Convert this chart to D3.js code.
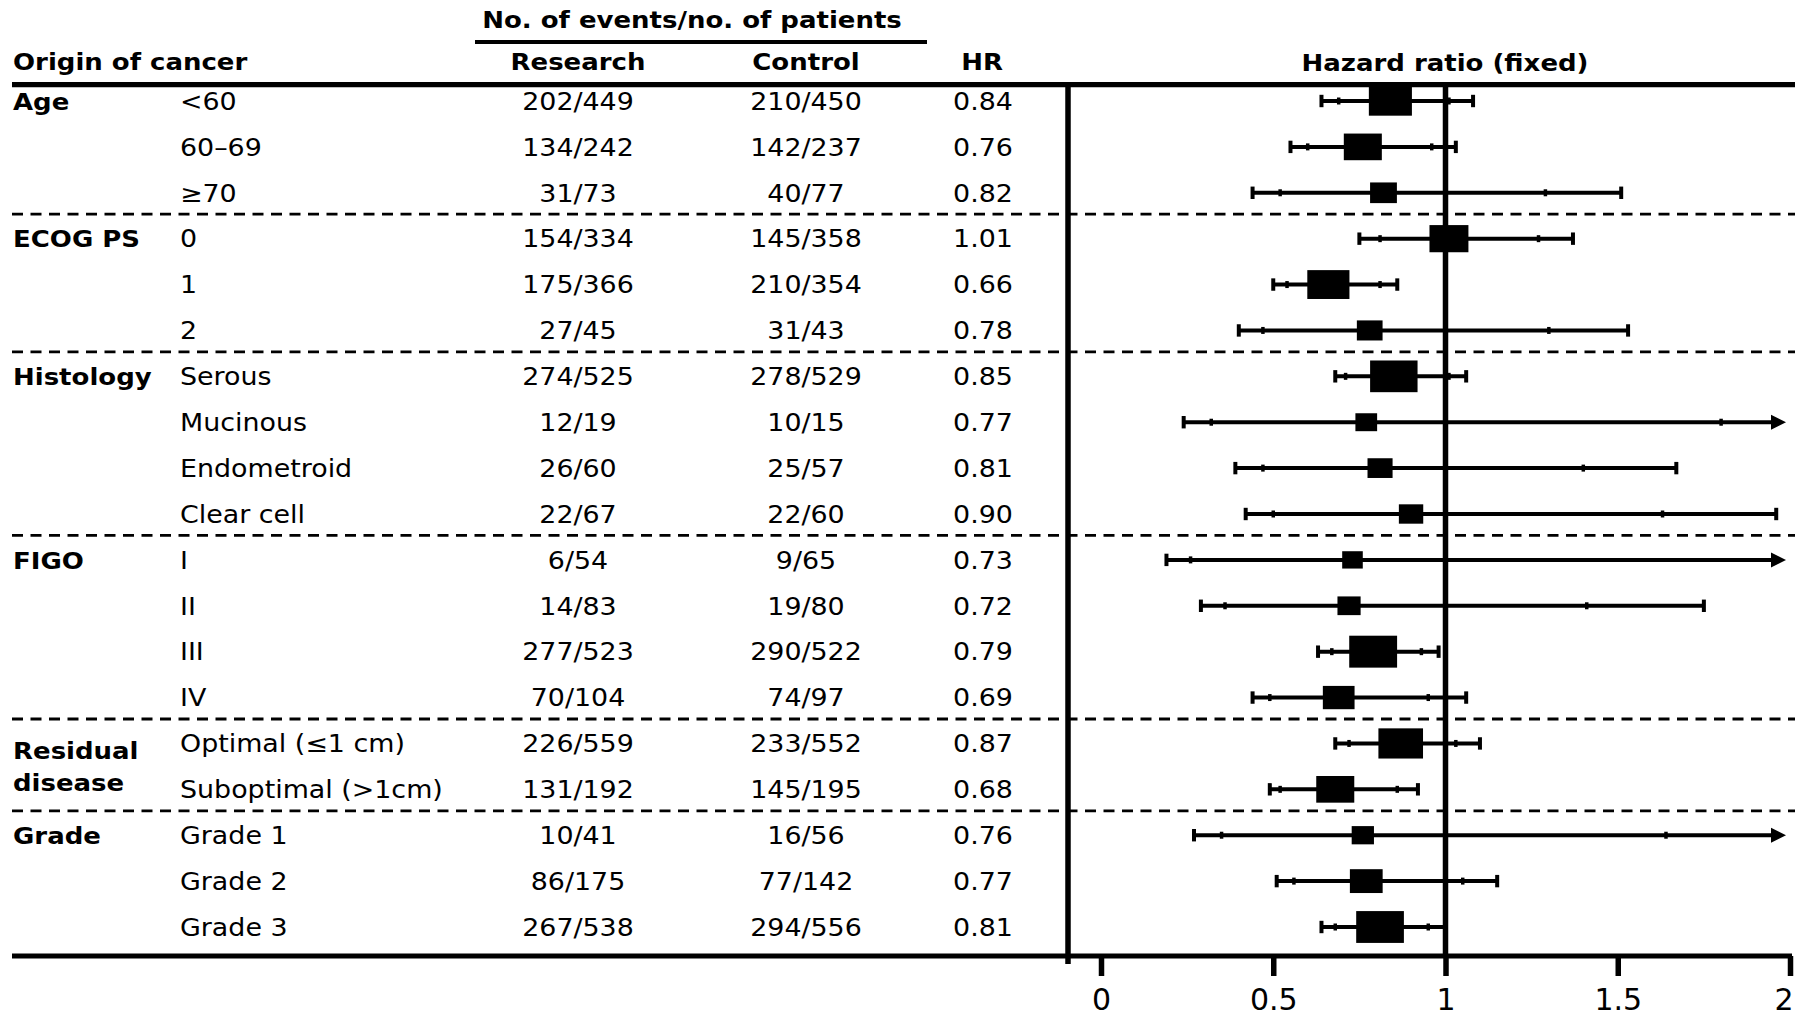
<!DOCTYPE html>
<html lang="en">
<head>
<meta charset="UTF-8">
<title>Hazard ratio by subgroup</title>
<script src="https://d3js.org/d3.v7.min.js"></script>
<style>
  body { margin: 0; background: #fff; }
  svg { display: block; font-family: "DejaVu Sans", Verdana, sans-serif; }
</style>
</head>
<body>
<svg id="chart" width="1795" height="1017"></svg>
<script>
// subgroup table
const groupLabels = ["Age", "ECOG PS", "Histology", "FIGO", "Residual disease", "Grade"];
const groupOf = [0, 0, 0, 1, 1, 1, 2, 2, 2, 2, 3, 3, 3, 3, 4, 4, 5, 5, 5];
const subgroups = ["<60", "60–69", "≥70", "0", "1", "2", "Serous", "Mucinous", "Endometroid", "Clear cell",
  "I", "II", "III", "IV", "Optimal (≤1 cm)", "Suboptimal (>1cm)", "Grade 1", "Grade 2", "Grade 3"];
const researchEvents = [202, 134, 31, 154, 175, 27, 274, 12, 26, 22, 6, 14, 277, 70, 226, 131, 10, 86, 267];
const researchTotal  = [449, 242, 73, 334, 366, 45, 525, 19, 60, 67, 54, 83, 523, 104, 559, 192, 41, 175, 538];
const controlEvents  = [210, 142, 40, 145, 210, 31, 278, 10, 25, 22, 9, 19, 290, 74, 233, 145, 16, 77, 294];
const controlTotal   = [450, 237, 77, 358, 354, 43, 529, 15, 57, 60, 65, 80, 522, 97, 552, 195, 56, 142, 556];
const hr = [0.84, 0.76, 0.82, 1.01, 0.66, 0.78, 0.85, 0.77, 0.81, 0.90, 0.73, 0.72, 0.79, 0.69, 0.87, 0.68, 0.76, 0.77, 0.81];
// outer (wide) and inner intervals
const ciLoOuter = [0.64, 0.55, 0.44, 0.75, 0.50, 0.40, 0.68, 0.24, 0.39, 0.42, 0.19, 0.29, 0.63, 0.44, 0.68, 0.49, 0.27, 0.51, 0.64];
const ciLoInner = [0.69, 0.60, 0.52, 0.81, 0.54, 0.47, 0.71, 0.32, 0.47, 0.50, 0.26, 0.36, 0.67, 0.49, 0.72, 0.52, 0.35, 0.56, 0.68];
const ciHiInner = [1.01, 0.96, 1.29, 1.27, 0.81, 1.30, 1.01, 1.80, 1.40, 1.63, 2.90, 1.41, 0.93, 0.95, 1.03, 0.86, 1.64, 1.05, 0.95];
const ciHiOuter = [1.08, 1.03, 1.51, 1.37, 0.86, 1.53, 1.06, 2.40, 1.67, 1.96, 3.90, 1.75, 0.98, 1.06, 1.10, 0.92, 2.10, 1.15, 1.00];
const axisTicks = [0, 0.5, 1, 1.5, 2];

const svg = d3.select("#chart");
const n = subgroups.length;

const x = d3.scaleLinear().domain([0, 2]).range([1101, 1790]);
const y = d3.scalePoint().domain(d3.range(n)).range([101, 927]);
const events = d3.range(n).map(i => researchEvents[i] + controlEvents[i]);
const boxW = d3.scaleSqrt().domain([0, 625]).range([15.3, 49.5]);
const boxH = d3.scaleSqrt().domain([0, 625]).range([14.5, 32.8]);

const plotTop = 84.7, plotBottom = 956, axisX = 1068;

// text stretched a little sideways like the original
function label(str, cx, cy, opt) {
  opt = opt || {};
  const bold = !!opt.bold;
  const sx = bold ? 1.13 : 1.12;
  return svg.append("text")
    .attr("transform", `translate(${cx},${cy}) scale(${sx},1)`)
    .attr("text-anchor", opt.anchor || "start")
    .style("font-size", (bold ? 23 : 24) + "px")
    .style("font-weight", bold ? "bold" : "normal")
    .text(str);
}

// headers
label("No. of events/no. of patients", 692, 28, { bold: true, anchor: "middle" });
svg.append("line").attr("x1", 475).attr("x2", 927).attr("y1", 42).attr("y2", 42)
  .attr("stroke", "#000").attr("stroke-width", 4);
label("Origin of cancer", 13, 69.5, { bold: true });
label("Research", 578, 69.5, { bold: true, anchor: "middle" });
label("Control", 806, 69.5, { bold: true, anchor: "middle" });
label("HR", 982, 69.5, { bold: true, anchor: "middle" });
label("Hazard ratio (fixed)", 1445, 70.5, { bold: true, anchor: "middle" });

// table rows
d3.range(n).forEach(i => {
  const base = y(i) + 8.8;
  if (i === 0 || groupOf[i] !== groupOf[i - 1]) {
    const g = groupLabels[groupOf[i]];
    const rowsInGroup = groupOf.filter(v => v === groupOf[i]).length;
    if (g.includes(" ") && rowsInGroup === 2) {
      const mid = (y(i) + y(i + 1)) / 2 + 8.8;
      g.split(" ").forEach((w, k) => label(w, 13, mid + (k === 0 ? -16 : 16), { bold: true }));
    } else {
      label(g, 13, base, { bold: true });
    }
  }
  label(subgroups[i], 180, base);
  label(researchEvents[i] + "/" + researchTotal[i], 578, base, { anchor: "middle" });
  label(controlEvents[i] + "/" + controlTotal[i], 806, base, { anchor: "middle" });
  label(hr[i].toFixed(2), 983, base, { anchor: "middle" });
});

// dashed separators between groups
d3.range(1, n).filter(i => groupOf[i] !== groupOf[i - 1]).forEach(i => {
  const yy = (y(i - 1) + y(i)) / 2 - 1.5;
  svg.append("line").attr("x1", 12).attr("x2", 1795).attr("y1", yy).attr("y2", yy)
    .attr("stroke", "#000").attr("stroke-width", 2.8).attr("stroke-dasharray", "11 7.5");
});

// frame lines
svg.append("line").attr("x1", 12).attr("x2", 1795).attr("y1", plotTop).attr("y2", plotTop)
  .attr("stroke", "#000").attr("stroke-width", 5.3);
svg.append("line").attr("x1", 12).attr("x2", 1792).attr("y1", plotBottom).attr("y2", plotBottom)
  .attr("stroke", "#000").attr("stroke-width", 5);
svg.append("line").attr("x1", axisX).attr("x2", axisX).attr("y1", plotTop).attr("y2", 964)
  .attr("stroke", "#000").attr("stroke-width", 5.5);
svg.append("line").attr("x1", x(1)).attr("x2", x(1)).attr("y1", plotTop).attr("y2", plotBottom)
  .attr("stroke", "#000").attr("stroke-width", 5.5);

// forest marks
const arrowTip = x(2) - 4;
const rows = svg.append("g").selectAll("g").data(d3.range(n)).join("g")
  .attr("transform", i => `translate(0,${y(i)})`);

rows.append("line")
  .attr("x1", i => x(Math.max(0, ciLoOuter[i])))
  .attr("x2", i => ciHiOuter[i] > 2 ? arrowTip - 6 : x(ciHiOuter[i]))
  .attr("stroke", "#000").attr("stroke-width", 4);

rows.each(function (i) {
  const g = d3.select(this);
  const caps = [ciLoOuter[i], ciHiOuter[i]].filter(v => v <= 2);
  caps.forEach(v => g.append("line").attr("x1", x(v)).attr("x2", x(v)).attr("y1", -6.2).attr("y2", 6.2)
    .attr("stroke", "#000").attr("stroke-width", 4));
  [ciLoInner[i], ciHiInner[i]].filter(v => v <= 2).forEach(v =>
    g.append("line").attr("x1", x(v)).attr("x2", x(v)).attr("y1", -3.5).attr("y2", 3.5)
      .attr("stroke", "#000").attr("stroke-width", 3.5));
  if (ciHiOuter[i] > 2) {
    g.append("path")
      .attr("d", `M${arrowTip},0 L${arrowTip - 15},-7.5 L${arrowTip - 15},7.5 Z`)
      .attr("fill", "#000");
  }
});

rows.append("rect")
  .attr("x", i => x(hr[i]) - boxW(events[i]) / 2)
  .attr("y", i => -boxH(events[i]) / 2)
  .attr("width", i => boxW(events[i]))
  .attr("height", i => boxH(events[i]))
  .attr("fill", "#000");

// x axis
const axis = svg.append("g")
  .attr("transform", `translate(0,${plotBottom})`)
  .call(d3.axisBottom(x).tickValues(axisTicks).tickSize(20).tickSizeOuter(0).tickFormat(d3.format("")));
axis.select(".domain").remove();
axis.selectAll(".tick line").attr("stroke", "#000").attr("stroke-width", 5.5);
axis.selectAll(".tick text")
  .attr("y", 54).attr("dy", null)
  .attr("fill", "#000")
  .style("font-family", "'DejaVu Sans', Verdana, sans-serif")
  .style("font-size", "30px");
// last label sits against the right edge, keep it inside
axis.selectAll(".tick text").filter(d => d === x.domain()[1])
  .attr("text-anchor", "end").attr("x", 3);
</script>
</body>
</html>
